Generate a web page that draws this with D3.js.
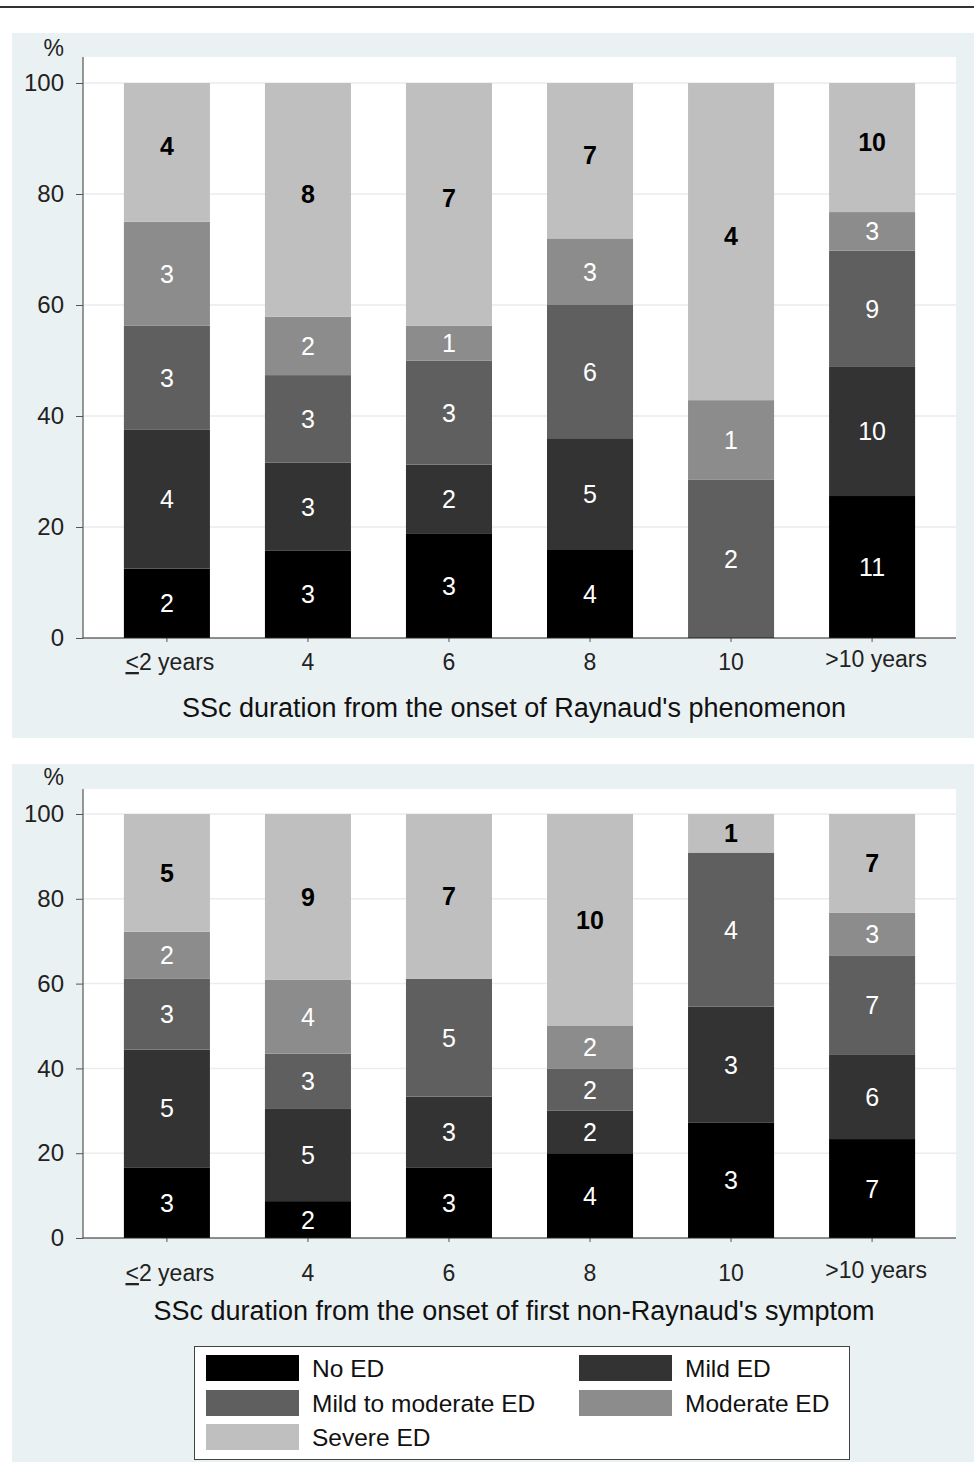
<!DOCTYPE html>
<html>
<head>
<meta charset="utf-8">
<script src="https://cdn.jsdelivr.net/npm/d3@7"></script>
<style>
  html, body { margin: 0; padding: 0; background: #ffffff; }
  svg { display: block; }
  text { font-family: "Liberation Sans", Arial, sans-serif; }
</style>
</head>
<body>
<svg id="chart" width="974" height="1462"></svg>
<script>
// ---- data ----
const categories = ["<2 years", "4", "6", "8", "10", ">10 years"];
const seriesNames = ["No ED", "Mild ED", "Mild to moderate ED", "Moderate ED", "Severe ED"];
const seriesColors = ["#000000", "#333333", "#5f5f5f", "#8c8c8c", "#bfbfbf"];
const yTicks = [0, 20, 40, 60, 80, 100];

// SSc duration from onset of Raynaud's phenomenon (patient counts)
const rpNoED = [2, 3, 3, 4, 0, 11];
const rpMild = [4, 3, 2, 5, 0, 10];
const rpMildMod = [3, 3, 3, 6, 2, 9];
const rpModerate = [3, 2, 1, 3, 1, 3];
const rpSevere = [4, 8, 7, 7, 4, 10];

// SSc duration from onset of first non-Raynaud's symptom (patient counts)
const nrNoED = [3, 2, 3, 4, 3, 7];
const nrMild = [5, 5, 3, 2, 3, 6];
const nrMildMod = [3, 3, 5, 2, 4, 7];
const nrModerate = [2, 4, 0, 2, 0, 3];
const nrSevere = [5, 9, 7, 10, 1, 7];

const titles = [
  "SSc duration from the onset of Raynaud's phenomenon",
  "SSc duration from the onset of first non-Raynaud's symptom"
];

function buildRows(arrs) {
  return categories.map((c, i) => {
    const r = { cat: c };
    seriesNames.forEach((s, j) => { r[s] = arrs[j][i]; });
    return r;
  });
}
const panelsData = [
  buildRows([rpNoED, rpMild, rpMildMod, rpModerate, rpSevere]),
  buildRows([nrNoED, nrMild, nrMildMod, nrModerate, nrSevere])
];

// ---- layout ----
const svg = d3.select("#chart");
const W = 974;
const FONT = "'Liberation Sans', Arial, sans-serif";

// top rule
svg.append("rect").attr("x", 0).attr("y", 6).attr("width", W).attr("height", 2).attr("fill", "#333");

const panels = [
  { bgTop: 33, bgBottom: 738, plotTop: 57, y100: 83, y0: 638, pct: 48, tickBase: 670, titleBase: 717, sevShift: -6 },
  { bgTop: 764, bgBottom: 1462, plotTop: 789, y100: 814, y0: 1238, pct: 777, tickBase: 1281, titleBase: 1320, sevShift: 0 }
];
const plotLeft = 83, plotRight = 956;

const color = d3.scaleOrdinal().domain(seriesNames).range(seriesColors);
const x = d3.scaleBand().domain(categories).range([plotLeft, plotRight]).paddingInner(0.39).paddingOuter(0.29);

panels.forEach((p, pi) => {
  const g = svg.append("g");
  g.append("rect").attr("x", 12).attr("y", p.bgTop).attr("width", W - 12).attr("height", p.bgBottom - p.bgTop)
    .attr("fill", "#eaf1f3");
  g.append("rect").attr("x", plotLeft).attr("y", p.plotTop).attr("width", plotRight - plotLeft).attr("height", p.y0 - p.plotTop)
    .attr("fill", "#ffffff");

  const y = d3.scaleLinear().domain([0, 100]).range([p.y0, p.y100]);

  // gridlines
  g.selectAll(".grid").data(yTicks.filter(t => t > 0)).enter().append("line")
    .attr("x1", plotLeft).attr("x2", plotRight)
    .attr("y1", d => y(d)).attr("y2", d => y(d))
    .attr("stroke", "#e9eded").attr("stroke-width", 1.5);

  // stacked bars (normalized to percent)
  const stack = d3.stack().keys(seriesNames).offset(d3.stackOffsetExpand);
  const layers = stack(panelsData[pi]);

  const lg = g.selectAll(".layer").data(layers).enter().append("g")
    .attr("fill", d => color(d.key));
  lg.selectAll("rect").data(d => d.map(v => ({ v, key: d.key }))).enter().append("rect")
    .attr("x", d => x(d.v.data.cat))
    .attr("width", x.bandwidth())
    .attr("y", d => y(d.v[1] * 100))
    .attr("height", d => y(d.v[0] * 100) - y(d.v[1] * 100));

  // segment labels
  layers.forEach(layer => {
    const severe = layer.key === "Severe ED";
    layer.forEach(v => {
      const n = v.data[layer.key];
      if (!n) return;
      const cy = (y(v[0] * 100) + y(v[1] * 100)) / 2 + (severe ? p.sevShift : 0);
      g.append("text")
        .attr("x", x(v.data.cat) + x.bandwidth() / 2)
        .attr("y", cy)
        .attr("dy", "0.36em")
        .attr("text-anchor", "middle")
        .attr("font-size", 25)
        .attr("font-weight", severe ? "bold" : "normal")
        .attr("fill", severe ? "#000" : "#fff")
        .text(n);
    });
  });

  // y axis
  const yAxis = d3.axisLeft(y).tickValues(yTicks).tickSize(7).tickPadding(12).tickFormat(d3.format("d"));
  const ya = g.append("g").attr("transform", `translate(${plotLeft},0)`).call(yAxis);
  ya.select(".domain").remove();
  ya.selectAll(".tick line").attr("stroke", "#555");
  ya.selectAll(".tick text").attr("font-size", 24).attr("font-family", FONT).attr("fill", "#222");
  g.append("line").attr("x1", plotLeft).attr("x2", plotLeft).attr("y1", p.plotTop).attr("y2", p.y0)
    .attr("stroke", "#555").attr("stroke-width", 1.2);

  // x axis
  const xAxis = d3.axisBottom(x).tickSize(4).tickFormat("");
  const xa = g.append("g").attr("transform", `translate(0,${p.y0})`).call(xAxis);
  xa.select(".domain").remove();
  xa.selectAll(".tick line").attr("stroke", "#555");
  g.append("line").attr("x1", plotLeft).attr("x2", plotRight).attr("y1", p.y0).attr("y2", p.y0)
    .attr("stroke", "#222").attr("stroke-width", 1.2);

  // x tick labels
  categories.forEach((c, i) => {
    const t = g.append("text")
      .attr("x", x(c) + x.bandwidth() / 2 + (i === 5 ? 4 : i === 0 ? 3 : 0))
      .attr("y", p.tickBase - (i === 5 ? 3 : 0))
      .attr("text-anchor", "middle")
      .attr("font-size", 23)
      .attr("fill", "#222");
    if (c.startsWith("<")) {
      t.append("tspan").attr("text-decoration", "underline").text("<");
      t.append("tspan").text(c.slice(1));
    } else {
      t.text(c);
    }
  });

  // "%" label
  g.append("text").attr("x", 64).attr("y", p.pct).attr("dy", "0.36em").attr("text-anchor", "end")
    .attr("font-size", 23).attr("fill", "#222").text("%");

  // axis title
  g.append("text").attr("x", 514).attr("y", p.titleBase).attr("text-anchor", "middle")
    .attr("font-size", 27).attr("fill", "#111").text(titles[pi]);
});

// ---- legend ----
const leg = svg.append("g");
leg.append("rect").attr("x", 194.5).attr("y", 1346.5).attr("width", 655).attr("height", 113)
  .attr("fill", "#ffffff").attr("stroke", "#444").attr("stroke-width", 1);
const legCols = [206, 579];
const legRows = [1368, 1403, 1437];
seriesNames.forEach((s, i) => {
  const col = i % 2, row = Math.floor(i / 2);
  const lx = legCols[col], ly = legRows[row];
  leg.append("rect").attr("x", lx).attr("y", ly - 13).attr("width", 93).attr("height", 26).attr("fill", color(s));
  leg.append("text").attr("x", lx + 106).attr("y", ly).attr("dy", "0.36em")
    .attr("font-size", 24.5).attr("fill", "#111").text(s);
});
</script>
</body>
</html>
